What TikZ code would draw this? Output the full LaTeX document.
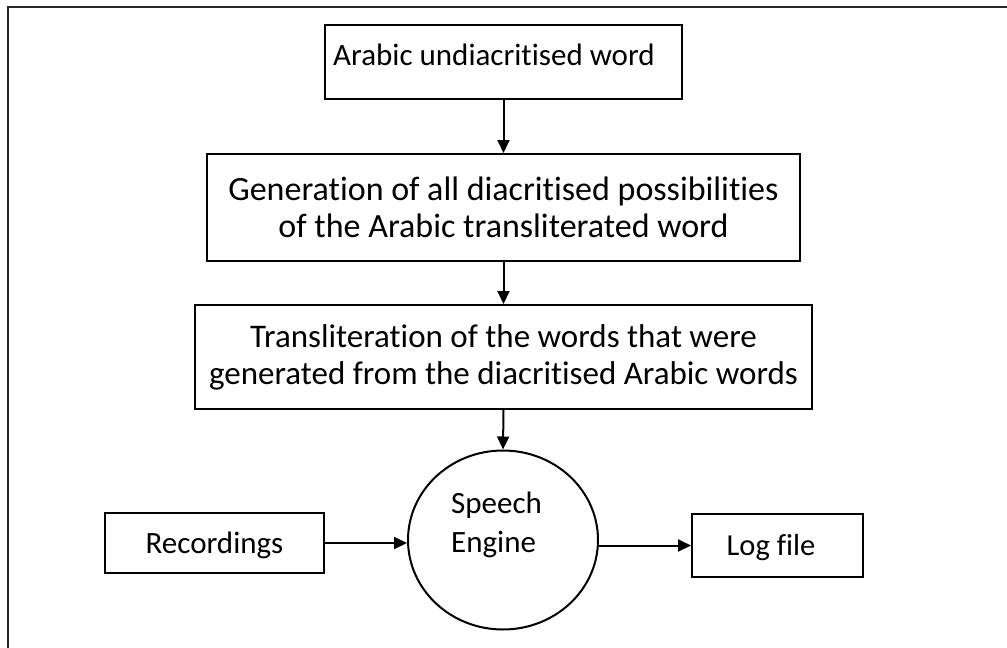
\documentclass[tikz,border=0pt]{standalone}
\usepackage{fontspec}
\setmainfont{Carlito}[Ligatures=CommonOff]
\usetikzlibrary{shapes.geometric,arrows.meta}
\newcommand{\fs}[2]{\fontsize{#1}{#2}\selectfont}
\begin{document}
\begin{tikzpicture}[x=1pt,y=-1pt,
  stepbox/.style={draw,line width=2pt,inner sep=0pt,align=center},
  label text/.style={anchor=base,inner sep=0pt},
  flow/.style={line width=2pt,-{Triangle[length=13pt,width=12pt]}}]
\useasboundingbox (0,0) rectangle (1007,648);
% page frame (only the top and left edges fall inside the picture)
\draw[line width=2.6pt,black!85] (8,660) -- (8,7) -- (1020,7);

\node[stepbox,minimum width=357pt,minimum height=74pt] (undiac) at (503.5,62) {};
\node[label text,font=\fs{31}{37}] (undiactext) at (494,65) {Arabic undiacritised word};
\node[stepbox,font=\fs{34}{37},minimum width=593pt,minimum height=107pt] (gen) at (503.5,207.5)
  {Generation of all diacritised possibilities\\of the Arabic transliterated word};
\node[stepbox,font=\fs{33}{37},minimum width=617pt,minimum height=104pt] (translit) at (503.5,357)
  {Transliteration of the words that were\\generated from the diacritised Arabic words};
\node[draw,ellipse,line width=2pt,minimum width=190pt,minimum height=179pt,inner sep=0pt] (engine) at (503,540) {};
\node[anchor=base west,align=left,inner sep=0pt,font=\fs{31}{39}] (enginetext) at (451,552) {Speech\\Engine};
\node[stepbox,minimum width=219pt,minimum height=60pt] (rec) at (214.5,543) {};
\node[label text,font=\fs{31}{37}] (rectext) at (214.5,553) {Recordings};
\node[stepbox,minimum width=171pt,minimum height=63pt] (log) at (777.5,545.5) {};
\node[label text,font=\fs{30.5}{37}] (logtext) at (771,555) {Log file};

\draw[flow] (undiac.south) -- (gen.north);
\draw[flow] (gen.south) -- (translit.north);
\draw[flow] (translit.south) -- (engine.north);
\draw[flow] (rec.east) -- (rec.east -| engine.west);
\draw[flow] (engine.east |- log.west) -- (log.west);
\end{tikzpicture}
\end{document}
